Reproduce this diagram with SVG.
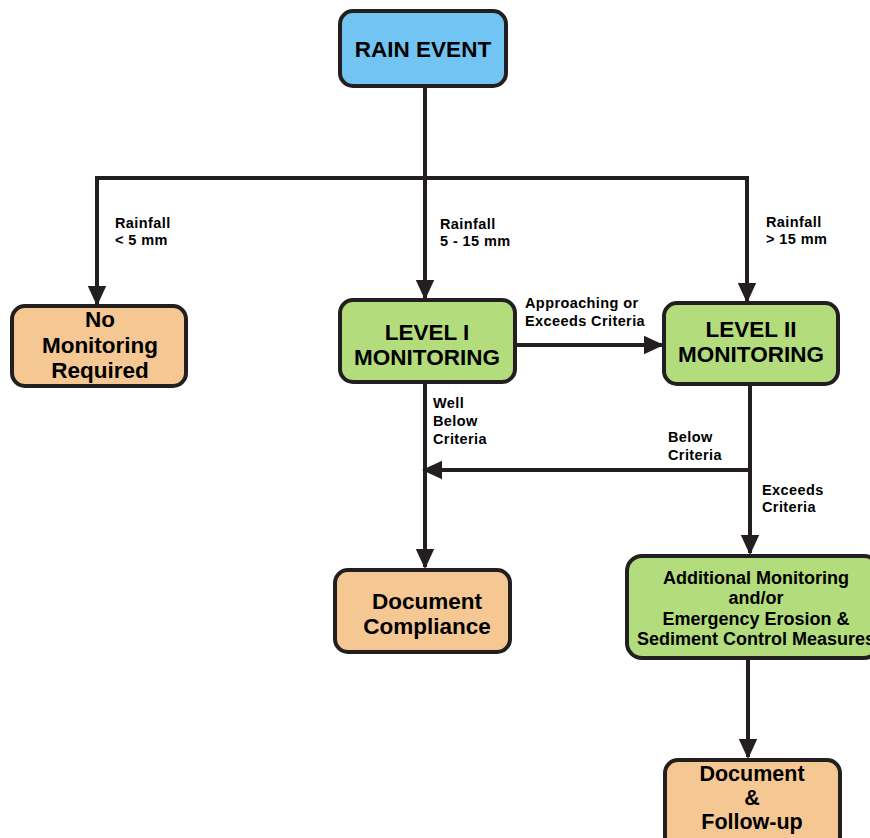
<svg xmlns="http://www.w3.org/2000/svg" width="870" height="838" viewBox="0 0 870 838">
<style>
.box{stroke:#231f20;stroke-width:4}
.blue{fill:#72c5f3}
.orange{fill:#f5c793}
.green{fill:#b3dc7c}
.t{font-family:"Liberation Sans",Arial,sans-serif;font-weight:bold;fill:#000;text-anchor:middle}
.lbl{font-family:"Liberation Sans",Arial,sans-serif;font-weight:bold;fill:#000;font-size:14.5px;letter-spacing:0.4px}
.ln{stroke:#231f20;stroke-width:4;fill:none}
</style>
<defs>
<marker id="ah" markerWidth="5" markerHeight="5" refX="4.5" refY="2.5" orient="auto" markerUnits="strokeWidth" viewBox="0 0 5 5">
<path d="M0,0.2 L5,2.5 L0,4.8 Z" fill="#231f20"/>
</marker>
</defs>
<g id="connectors">
<path class="ln" d="M425,86 V178"/>
<path class="ln" d="M97,178 H747"/>
<path class="ln" d="M97,176 V304" marker-end="url(#ah)"/>
<path class="ln" d="M425,178 V298" marker-end="url(#ah)"/>
<path class="ln" d="M747,176 V301" marker-end="url(#ah)"/>
<path class="ln" d="M515,345 H662" marker-end="url(#ah)"/>
<path class="ln" d="M425,382 V567" marker-end="url(#ah)"/>
<path class="ln" d="M750,384 V553" marker-end="url(#ah)"/>
<path class="ln" d="M750,470 H424" marker-end="url(#ah)"/>
<path class="ln" d="M748,658 V757" marker-end="url(#ah)"/>
</g>
<g id="labels">
<text class="lbl" x="115" y="228">Rainfall</text>
<text class="lbl" x="115" y="245">&lt; 5 mm</text>
<text class="lbl" x="440" y="229">Rainfall</text>
<text class="lbl" x="440" y="246">5 - 15 mm</text>
<text class="lbl" x="766" y="227">Rainfall</text>
<text class="lbl" x="766" y="244">&gt; 15 mm</text>
<text class="lbl" x="525" y="308">Approaching or</text>
<text class="lbl" x="525" y="326">Exceeds Criteria</text>
<text class="lbl" x="433" y="408">Well</text>
<text class="lbl" x="433" y="426">Below</text>
<text class="lbl" x="433" y="444">Criteria</text>
<text class="lbl" x="668" y="442">Below</text>
<text class="lbl" x="668" y="460">Criteria</text>
<text class="lbl" x="762" y="495">Exceeds</text>
<text class="lbl" x="762" y="512">Criteria</text>
</g>
<g id="rain-event">
<rect class="box blue" x="340" y="11" width="166" height="75" rx="13"/>
<text class="t" x="423" y="57" font-size="22.5">RAIN EVENT</text>
</g>
<g id="no-monitoring">
<rect class="box orange" x="12" y="306" width="174" height="80" rx="13"/>
<text class="t" x="100" y="327" font-size="22.5">No</text>
<text class="t" x="100" y="353" font-size="22.5">Monitoring</text>
<text class="t" x="100" y="378" font-size="22.5">Required</text>
</g>
<g id="level-1">
<rect class="box green" x="340" y="300" width="175" height="82" rx="13"/>
<text class="t" x="427" y="340" font-size="22.5">LEVEL I</text>
<text class="t" x="427" y="365" font-size="22.5">MONITORING</text>
</g>
<g id="level-2">
<rect class="box green" x="664" y="303" width="174" height="81" rx="13"/>
<text class="t" x="751" y="337" font-size="22.5">LEVEL II</text>
<text class="t" x="751" y="362" font-size="22.5">MONITORING</text>
</g>
<g id="document-compliance">
<rect class="box orange" x="335" y="570" width="175" height="82" rx="13"/>
<text class="t" x="427" y="609" font-size="22.5">Document</text>
<text class="t" x="427" y="634" font-size="22.5">Compliance</text>
</g>
<g id="additional-monitoring">
<rect class="box green" x="627" y="556" width="252" height="102" rx="15"/>
<text class="t" x="756" y="584" font-size="18">Additional Monitoring</text>
<text class="t" x="756" y="604" font-size="18">and/or</text>
<text class="t" x="756" y="625" font-size="18">Emergency Erosion &amp;</text>
<text class="t" x="756" y="645" font-size="18">Sediment Control Measures</text>
</g>
<g id="document-follow-up">
<rect class="box orange" x="665" y="760" width="175" height="90" rx="13"/>
<text class="t" x="752" y="781" font-size="21.5">Document</text>
<text class="t" x="752" y="805" font-size="21.5">&amp;</text>
<text class="t" x="752" y="829" font-size="21.5">Follow-up</text>
</g>
</svg>
